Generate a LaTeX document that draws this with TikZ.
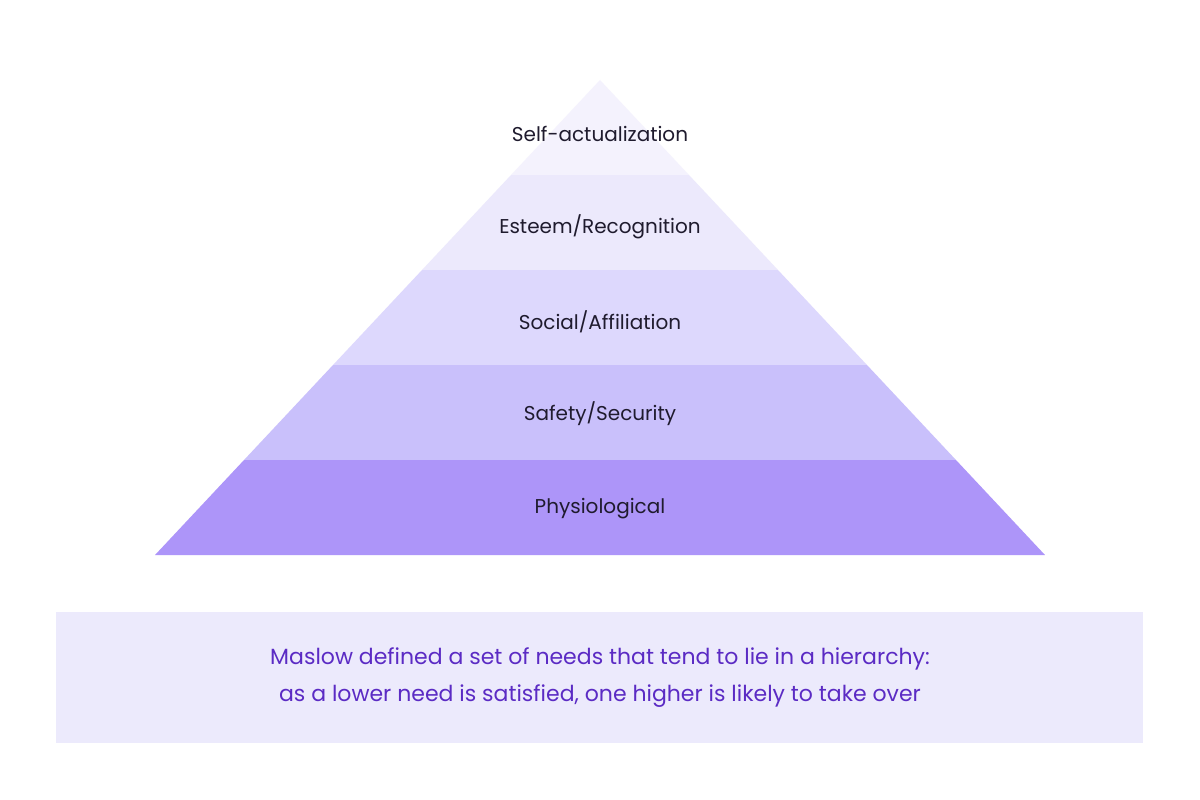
\documentclass[tikz,border=0pt]{standalone}
\usepackage{fontspec}
\setmainfont{Poppins}
\definecolor{l1}{HTML}{F4F2FD}
\definecolor{l2}{HTML}{ECE9FC}
\definecolor{l3}{HTML}{DDD8FD}
\definecolor{l4}{HTML}{C9C0FB}
\definecolor{l5}{HTML}{AD95F9}
\definecolor{boxc}{HTML}{ECEAFC}
\definecolor{txt}{HTML}{1F1B2E}
\definecolor{cap}{HTML}{5B2BC4}
\begin{document}
\begin{tikzpicture}[x=1pt,y=-1pt,
  lab/.style={font=\fontsize{20}{24}\selectfont,text=txt},
  captxt/.style={font=\fontsize{22}{37}\selectfont,text=cap,align=center}]
\useasboundingbox (0,0) rectangle (1200,800);
\fill[white] (0,0) rectangle (1200,800);
\def\hw#1{(#1-80)*0.9368}
\foreach \t/\b/\c in {80/175/l1,175/270/l2,270/365/l3,365/460/l4,460/555/l5}{
  \fill[\c] ({600-(\t-80)*0.9368},\t) -- ({600+(\t-80)*0.9368},\t) -- ({600+(\b-80)*0.9368},\b) -- ({600-(\b-80)*0.9368},\b) -- cycle;
}
\node[lab] (n1) at (600,134) {Self-actualization};
\node[lab] (n2) at (600,227) {Esteem/Recognition};
\node[lab] (n3) at (600,322) {Social/Affiliation};
\node[lab] (n4) at (600,414) {Safety/Security};
\node[lab] (n5) at (600,509) {Physiological};
\fill[boxc] (56,612) rectangle (1143,743);
\node[captxt] (c) at (600,678) {Maslow defined a set of needs that tend to lie in a hierarchy:\\as a lower need is satisfied, one higher is likely to take over};
\end{tikzpicture}
\end{document}
